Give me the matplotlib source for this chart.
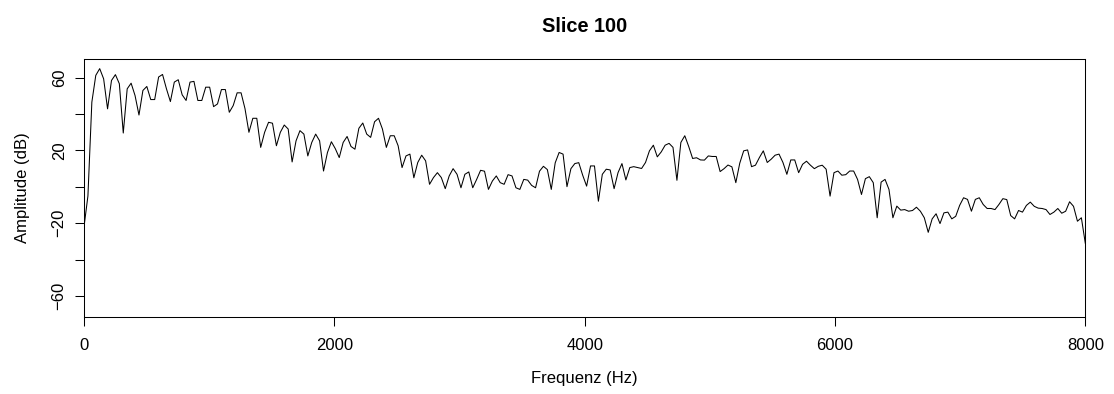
import numpy as np
import matplotlib
matplotlib.use("Agg")
import matplotlib.pyplot as plt

# amplitude spectrum of slice 100 (dB)
amp_db = [
    -22, -5, 46.6, 61.3, 65, 59.4, 42.9, 58.5, 61.7, 56.7,
    29.6, 53.9, 57, 50.2, 39.5, 53, 55.2, 48, 48, 60.4,
    61.8, 53.9, 46.9, 57.6, 58.9, 50.6, 47.5, 57.6, 58, 47.5,
    47.5, 54.8, 54.8, 44.1, 45.6, 53.5, 53.5, 41, 44.7, 51.7,
    51.7, 43, 30, 37.7, 37.7, 21.7, 30, 35.5, 35, 22.6,
    30, 34, 31.8, 13.7, 25.3, 30.9, 29, 17, 24.4, 29,
    25.3, 8.7, 18.9, 24.8, 21, 16.1, 24.4, 27.7, 22.2, 20.7,
    32.2, 35.1, 29, 27.2, 35.8, 37.7, 31.8, 21.7, 28.1, 28.1,
    22.6, 10.6, 17, 18, 5, 13.4, 17.4, 14.3, 1.4, 5.1,
    7.8, 5.1, -1, 6, 10, 6.9, -0.5, 6.9, 8.2, -0.5,
    4.1, 9.1, 8.6, -1.4, 3.2, 6, 2.3, 1.4, 6.7, 6,
    -0.5, -1.4, 4.1, 3.7, 0.8, -0.5, 8.6, 11.3, 9.5, -1.4,
    13.2, 18.9, 18, 0.1, 10, 12.8, 13.3, 6.4, 0.4, 11.5,
    11.5, -7.9, 6.9, 9.7, 9.3, -1, 7.8, 12.8, 3.8, 10.6,
    11.1, 10.6, 10.1, 13.4, 19.8, 22.9, 16.5, 19.2, 22.9, 23.9,
    21.7, 3.6, 24.4, 28.1, 22.2, 15.6, 16, 14.8, 14.7, 17,
    16.7, 16.7, 8.4, 10, 12, 11, 2.3, 13, 19.8, 20.3,
    11.1, 11.9, 16.1, 19.8, 13.4, 15.2, 17.4, 18, 13.4, 6.9,
    14.8, 14.8, 7.8, 12.4, 14.1, 11.9, 10, 11.3, 11.9, 9.7,
    -5.1, 7.8, 8.7, 6.4, 6.7, 8.7, 8.7, 4.1, -4.2, 4.5,
    5.6, 2.3, -17, 2.6, 4.1, -1.4, -17, -10.6, -12.8, -12.5,
    -13.4, -13, -11.2, -13.4, -17, -25, -17.6, -14.8, -20.2, -14.3,
    -13.9, -17.6, -16.2, -10.2, -6, -6.9, -13.4, -6.9, -6, -9.7,
    -11.9, -11.9, -12.5, -9.7, -6.5, -7, -15.8, -17.6, -13, -13.9,
    -10.2, -8.4, -10.7, -11.7, -11.9, -12.5, -15.2, -13.9, -11.9, -14.5,
    -13.4, -8.2, -10.7, -18.9, -17, -31,
]
freq_max = 8000
xticks = [0, 2000, 4000, 6000, 8000]
yticks = [-60, -40, -20, 0, 20, 40, 60]
ylabels = ["-60", "", "-20", "", "20", "", "60"]

freq = np.linspace(0, freq_max, len(amp_db))

plt.rcParams["font.family"] = ["Liberation Sans", "DejaVu Sans"]
plt.rcParams["axes.unicode_minus"] = True

fig = plt.figure(figsize=(11.14, 3.94), dpi=100)
ax = fig.add_axes([84 / 1114, 1 - 316.7 / 394, (1085.3 - 84) / 1114, (316.7 - 59) / 394])

ax.plot(freq, amp_db, color="black", lw=0.75)
ax.set_xlim(0, freq_max)
ax.set_ylim(-71.4, 70.3)

ax.set_xticks(xticks)
ax.set_xticklabels([str(t) for t in xticks])
ax.set_yticks(yticks)
ax.set_yticklabels([l.replace("-", "\u2212") for l in ylabels], rotation=90, va="center")
ax.tick_params(direction="out", length=6.5, width=0.75, labelsize=12, color="black")
ax.tick_params(axis="x", pad=9)
ax.tick_params(axis="y", pad=6)
for s in ax.spines.values():
    s.set_linewidth(0.75)
    s.set_color("black")

fig.text(584.6 / 1114, 1 - 26 / 394, "Slice 100", ha="center", va="center",
         fontsize=14.4, fontweight="bold")
fig.text(584.6 / 1114, 1 - 379 / 394, "Frequenz (Hz)", ha="center", va="center", fontsize=12)
fig.text(22.5 / 1114, 1 - 188 / 394, "Amplitude (dB)", ha="center", va="center",
         fontsize=12, rotation=90)

fig.savefig("out.png", dpi=100)
